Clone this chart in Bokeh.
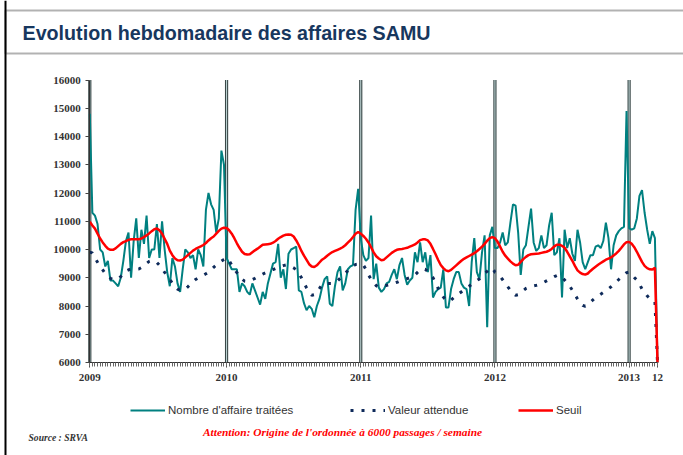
from bokeh.plotting import figure
from bokeh.models import (Range1d, FixedTicker, Label, Legend, LegendItem,
                          BoxAnnotation, Span, ColumnDataSource)
from bokeh.embed import file_html
from bokeh.resources import INLINE

# ---------------- data (weekly values, week index 0 = 2009 W1) ----------------
affaires_2009 = [14800, 11300, 11200, 10900, 10000, 9900, 9400, 9600, 8900, 8900, 8800, 8700,
                 9000, 9600, 10300, 10600, 9000, 10300, 11100, 9700, 10700, 10200, 11200, 9700,
                 10000, 10000, 10900, 9700, 11000, 10000, 9200, 8700, 9700, 9400, 8800, 8500,
                 9300, 10000, 9900, 9700, 9800, 9300, 10000, 9800, 9400, 11400, 12000, 11600,
                 11400, 10600, 11100, 13500, 13000]
affaires_2010 = [9700, 9500, 9300, 9300, 9300, 8500, 8800, 8700, 8500, 8400, 8800, 8550, 8300,
                 8050, 8500, 8250, 8800, 9150, 9500, 9550, 10200, 9000, 9300, 8600, 9850, 10000,
                 10050, 10100, 8550, 8500, 8100, 7850, 8000, 7900, 7600, 8000, 8250, 8650, 8950,
                 9050, 8080, 8000, 8700, 9200, 9400, 8550, 8800, 9300, 9400, 9450, 11400, 12150]
affaires_2011 = [10400, 9800, 9600, 9700, 11200, 8950, 9500, 8650, 8500, 8600, 8800, 8850, 9100,
                 9300, 8950, 9450, 9700, 9100, 8750, 8900, 9000, 9900, 9550, 10250, 9550, 9900,
                 9200, 9800, 8300, 8500, 8600, 8650, 9300, 7950, 7950, 8600, 8950, 9200, 9200,
                 8800, 8650, 8600, 8000, 9550, 10400, 9200, 8950, 9900, 10500, 7250, 10500, 10800]
affaires_2012 = [10050, 10050, 10250, 10600, 10150, 10250, 10950, 11600, 11550, 10600, 9100,
                 10000, 10150, 10800, 11450, 10250, 9950, 10050, 10500, 10050, 10150, 10850,
                 11300, 9800, 9900, 10400, 8300, 10700, 10050, 10400, 9850, 9600, 10700, 10250,
                 9550, 9300, 9550, 9800, 9800, 10100, 10150, 10050, 10300, 10950, 10400, 9300,
                 10150, 10500, 10650, 10750, 10800, 14900]
affaires_2013 = [10750, 10700, 10750, 11100, 11900, 12100, 11300, 10700, 10200, 10650, 10400, 6000]

attendue_2009 = [9900, 9880, 9700, 9550, 9400, 9280, 9150, 9050, 8980, 8940, 8930, 8960, 9040,
                 9150, 9240, 9280, 9300, 9300, 9300, 9310, 9360, 9430, 9510, 9580, 9610, 9600,
                 9540, 9440, 9320, 9190, 9080, 8940, 8800, 8680, 8600, 8560, 8550, 8600, 8680,
                 8770, 8860, 8940, 8990, 9040, 9090, 9140, 9200, 9280, 9370, 9450, 9520, 9590, 9650]
attendue_2010 = [9700, 9600, 9450, 9300, 9180, 9060, 8950, 8880, 8870, 8900, 8940, 8980, 9030,
                 9080, 9130, 9170, 9210, 9250, 9290, 9330, 9370, 9400, 9430, 9450, 9440, 9400,
                 9350, 9280, 9170, 9000, 8820, 8640, 8480, 8380, 8400, 8500, 8620, 8750, 8790,
                 8800, 8800, 8800, 8830, 8890, 8980, 9060, 9160, 9250, 9340, 9420, 9470, 9480]
attendue_2011 = [9500, 9450, 9300, 9100, 8950, 8820, 8720, 8670, 8680, 8700, 8730, 8750, 8780,
                 8810, 8840, 8880, 8910, 8940, 8970, 9000, 9030, 9100, 9190, 9270, 9320, 9300,
                 9220, 9110, 9000, 8820, 8620, 8460, 8320, 8200, 8160, 8210, 8290, 8370, 8440,
                 8500, 8570, 8640, 8700, 8770, 8840, 8900, 8960, 9050, 9140, 9230, 9310, 9350]
attendue_2012 = [9200, 9150, 9050, 8930, 8800, 8680, 8560, 8450, 8380, 8400, 8460, 8550, 8620,
                 8660, 8690, 8710, 8730, 8750, 8790, 8840, 8890, 8940, 8990, 9040, 9080, 9090,
                 9020, 8920, 8810, 8700, 8560, 8400, 8250, 8120, 8020, 7990, 8040, 8130, 8220,
                 8300, 8360, 8420, 8480, 8540, 8610, 8680, 8760, 8850, 8940, 9030, 9110, 9180]
attendue_2013 = [9200, 9120, 9010, 8920, 8780, 8600, 8480, 8360, 8260, 8190, 8150, 6000]

seuil_2009 = [10980, 10850, 10740, 10560, 10390, 10250, 10130, 10030, 9990, 9990, 10040, 10120,
              10200, 10260, 10300, 10340, 10360, 10360, 10360, 10360, 10390, 10440, 10500, 10570,
              10650, 10720, 10740, 10680, 10560, 10380, 10200, 9960, 9800, 9680, 9620, 9610, 9640,
              9720, 9800, 9880, 9960, 10020, 10070, 10110, 10160, 10230, 10320, 10400, 10460,
              10560, 10660, 10740, 10770]
seuil_2010 = [10760, 10680, 10560, 10400, 10220, 10060, 9920, 9840, 9820, 9830, 9900, 9970, 10030,
              10100, 10170, 10180, 10190, 10200, 10240, 10300, 10380, 10440, 10490, 10520, 10530,
              10520, 10460, 10320, 10150, 9950, 9780, 9630, 9480, 9400, 9380, 9440, 9540, 9640,
              9700, 9780, 9850, 9910, 9950, 9990, 10030, 10080, 10150, 10240, 10330, 10440, 10560,
              10620]
seuil_2011 = [10560, 10480, 10380, 10250, 10080, 9900, 9760, 9680, 9620, 9640, 9720, 9800, 9880,
              9940, 9990, 10010, 10020, 10040, 10060, 10100, 10140, 10180, 10250, 10330, 10360,
              10360, 10320, 10200, 10020, 9830, 9630, 9450, 9340, 9260, 9230, 9280, 9360, 9440,
              9520, 9600, 9670, 9720, 9770, 9820, 9870, 9940, 10020, 10100, 10200, 10310, 10400,
              10440]
seuil_2012 = [10400, 10280, 10100, 9920, 9780, 9680, 9580, 9500, 9440, 9460, 9560, 9660, 9740,
              9800, 9830, 9840, 9850, 9860, 9880, 9900, 9920, 9960, 10020, 10110, 10170, 10170,
              10130, 10060, 9920, 9760, 9600, 9420, 9260, 9180, 9130, 9110, 9150, 9240, 9320,
              9390, 9460, 9520, 9580, 9640, 9680, 9720, 9790, 9860, 9950, 10060, 10180, 10260]
seuil_2013 = [10270, 10200, 10080, 9920, 9740, 9560, 9420, 9340, 9300, 9290, 9350, 6000]

year_start_weeks = [0, 53, 105, 157, 209]
x_tick_positions = [0, 53, 105, 157, 209, 220]
x_tick_labels = ["2009", "2010", "2011", "2012", "2013", "12"]
y_ticks = [6000, 7000, 8000, 9000, 10000, 11000, 12000, 13000, 14000, 15000, 16000]

affaires = affaires_2009 + affaires_2010 + affaires_2011 + affaires_2012 + affaires_2013
attendue = attendue_2009 + attendue_2010 + attendue_2011 + attendue_2012 + attendue_2013
seuil = seuil_2009 + seuil_2010 + seuil_2011 + seuil_2012 + seuil_2013
weeks = list(range(len(affaires)))

src = ColumnDataSource(dict(week=weeks, affaires=affaires, attendue=attendue, seuil=seuil))

# ---------------- geometry (pixels of the 683x455 canvas) ----------------
W, H = 683, 455
PX_LEFT, PX_RIGHT = 89.3, 657.0      # pixel x of first / last week
PY_TOP, PY_BOT = 79.5, 362.0         # pixel y of top / bottom y tick
x_first, x_last = weeks[0], weeks[-1]
y_low, y_high = y_ticks[0], y_ticks[-1]
sx = (PX_RIGHT - PX_LEFT) / (x_last - x_first)
sy = (PY_BOT - PY_TOP) / (y_high - y_low)
x_range = Range1d(x_first - PX_LEFT / sx, x_last + (W - PX_RIGHT) / sx)
y_range = Range1d(y_low - (H - PY_BOT) / sy, y_high + PY_TOP / sy)

p = figure(width=W, height=H, output_backend="svg", toolbar_location=None, tools="",
           x_range=x_range, y_range=y_range, min_border=0)
p.outline_line_color = None
p.xgrid.visible = False
p.ygrid.visible = False
p.background_fill_color = "white"
p.border_fill_color = "white"

# year separators (double lines)
n_sep = len(year_start_weeks)
p.segment(x0=year_start_weeks, y0=[y_low] * n_sep, x1=year_start_weeks, y1=[y_high] * n_sep,
          line_color="#3a4848", line_width=3.2)
p.segment(x0=year_start_weeks, y0=[y_low] * n_sep, x1=year_start_weeks, y1=[y_high] * n_sep,
          line_color="#c4dada", line_width=1)

r_aff = p.line("week", "affaires", source=src, line_color="#008080", line_width=2)
r_att = p.line("week", "attendue", source=src, line_color="#0E2A5A", line_width=3,
               line_dash="3 8")
r_seu = p.line("week", "seuil", source=src, line_color="#FF0000", line_width=2.5)

# axes drawn at fixed locations inside the frame
xa = p.xaxis[0]
xa.fixed_location = y_low
xa.bounds = (x_first, x_last)
xa.ticker = FixedTicker(ticks=x_tick_positions, minor_ticks=weeks)
xa.major_label_overrides = {k: v for k, v in zip(x_tick_positions, x_tick_labels)}
xa.major_tick_out = 5
xa.major_tick_in = 0
xa.minor_tick_out = 4
xa.minor_tick_in = 0
xa.axis_line_color = "#333333"
xa.major_tick_line_color = "#444444"
xa.minor_tick_line_color = "#666666"
xa.major_label_standoff = 6
xa.major_label_text_font = "Liberation Serif"
xa.major_label_text_font_style = "bold"
xa.major_label_text_font_size = "11px"
xa.major_label_text_color = "#333333"

ya = p.yaxis[0]
ya.fixed_location = x_first
ya.bounds = (y_low, y_high)
ya.ticker = FixedTicker(ticks=y_ticks)
ya.major_label_overrides = {v: str(v) for v in y_ticks}
ya.major_tick_out = 4
ya.major_tick_in = 0
ya.minor_tick_line_color = None
ya.axis_line_color = "#333333"
ya.major_tick_line_color = "#444444"
ya.major_label_standoff = 5
ya.major_label_text_font = "Liberation Serif"
ya.major_label_text_font_style = "bold"
ya.major_label_text_font_size = "11px"
ya.major_label_text_color = "#333333"

# frame decorations (screen units, origin bottom-left of canvas)
p.add_layout(BoxAnnotation(left=5, right=W + 20, top=H - 10, bottom=H - 53,
                           left_units="screen", right_units="screen",
                           top_units="screen", bottom_units="screen",
                           fill_alpha=0, line_color="black", line_width=2, level="overlay"))
p.add_layout(Span(location=5, location_units="screen", dimension="height",
                  line_color="black", line_width=2, level="overlay"))

p.add_layout(Label(x=22, y=H - 32, x_units="screen", y_units="screen",
                   text="Evolution hebdomadaire des affaires SAMU",
                   text_font="Liberation Sans", text_font_style="bold",
                   text_font_size="19.7px", text_color="#17375E", text_baseline="middle"))
p.add_layout(Label(x=28, y=H - 437, x_units="screen", y_units="screen",
                   text="Source : SRVA", text_font="Liberation Serif",
                   text_font_style="bold italic", text_font_size="9.6px",
                   text_color="#333333", text_baseline="middle"))
p.add_layout(Label(x=342, y=H - 431, x_units="screen", y_units="screen",
                   text="Attention: Origine de l'ordonnée à 6000 passages / semaine",
                   text_font="Liberation Serif", text_font_style="bold italic",
                   text_font_size="11.4px", text_color="#FF0000", text_baseline="middle",
                   text_align="center"))

# legends (one per item)
legend_specs = [("Nombre d'affaire traitées", r_aff, 130),
                ("Valeur attendue", r_att, 350),
                ("Seuil", r_seu, 518)]
for label, rend, lx in legend_specs:
    lg = Legend(items=[LegendItem(label=label, renderers=[rend])],
                location=(lx, H - 417),
                orientation="horizontal", glyph_width=35, glyph_height=14, label_height=14,
                label_standoff=3, padding=0, margin=0, spacing=0,
                border_line_color=None, background_fill_alpha=0,
                label_text_font="Liberation Sans", label_text_font_size="11.5px",
                label_text_color="#333333")
    p.add_layout(lg)

open("out.html", "w").write(file_html(p, INLINE))
